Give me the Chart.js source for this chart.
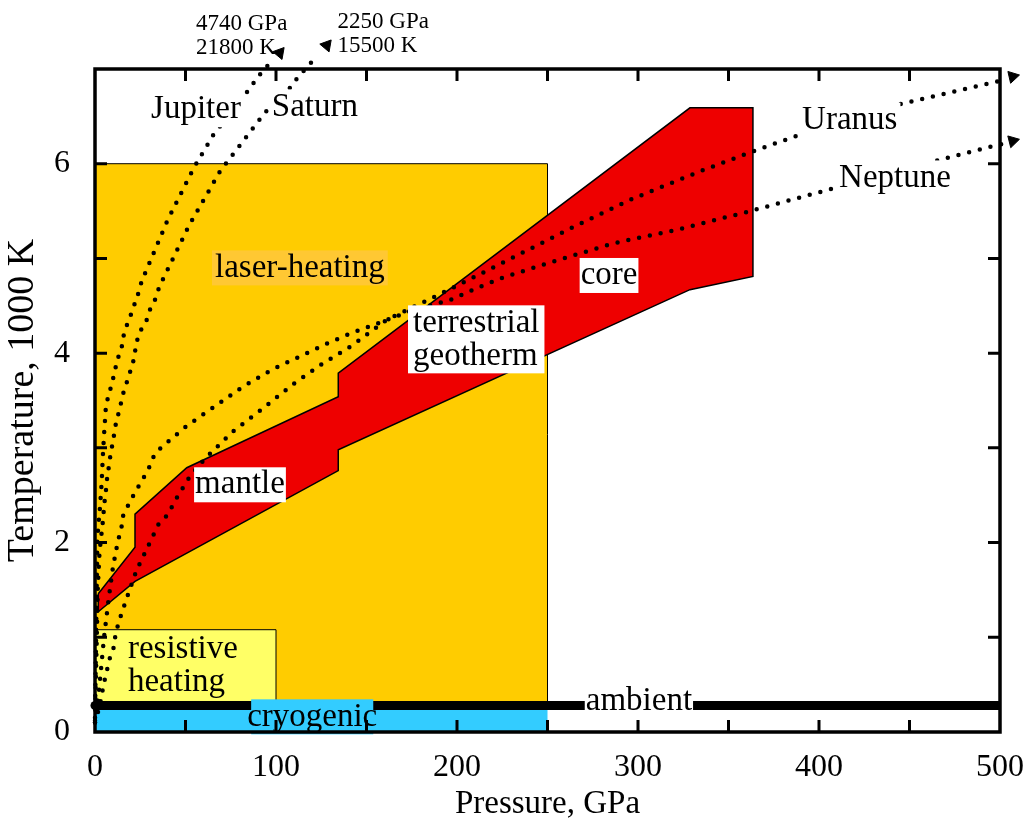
<!DOCTYPE html>
<html lang="en">
<head>
<meta charset="UTF-8">
<title>Pressure-temperature ranges</title>
<script src="https://cdn.jsdelivr.net/npm/chart.js"></script>
<style>
  html, body { margin: 0; padding: 0; background: #fff; }
  canvas { display: block; }
</style>
</head>
<body>
<canvas id="c" width="1025" height="824"></canvas>
<script>
// axis ticks
const xTicks = [0, 100, 200, 300, 400, 500];
const yTicks = [0, 2, 4, 6];

// experimental ranges (pressure GPa, temperature 1000 K)
const cryoP = [0, 250, 250, 0, 0];
const cryoT = [0, 0, 0.28, 0.28, 0];
const laserP = [0, 250, 250, 0, 0];
const laserT = [0.28, 0.28, 6, 6, 0.28];
const resistP = [0, 100, 100, 0, 0];
const resistT = [0.28, 0.28, 1.08, 1.08, 0.28];
const ambientP = [0, 500];
const ambientT = [0.28, 0.28];

// terrestrial geotherm (mantle + core band)
const geoP = [1.8, 22.1, 22.1, 50.7, 134.4, 134.4, 328.7, 363.5, 363.5, 328.7, 134.4, 134.4, 22.1, 1.8, 1.8];
const geoT = [1.46, 1.95, 2.30, 2.79, 3.54, 3.79, 6.59, 6.59, 4.81, 4.67, 2.98, 2.76, 1.59, 1.27, 1.46];

// planetary adiabats
const jupiterP = [0, 0.3, 0.6, 0.9, 1.3, 2.2, 2.8, 3.7, 4.3, 5.0, 5.9, 7.0, 9.2, 11, 12.2, 14.5, 15.6, 17.1, 19.7, 23.9, 25.8, 40, 54.7, 65.2, 83.3, 90.6, 96];
const jupiterT = [0.15, 0.6, 1.0, 1.5, 2.05, 2.25, 2.38, 2.64, 2.9, 3.14, 3.4, 3.52, 3.67, 3.81, 3.93, 4.03, 4.17, 4.27, 4.40, 4.63, 4.76, 5.4, 5.96, 6.30, 6.74, 6.93, 7.05];
const saturnP = [0, 0.5, 1.0, 1.5, 2.5, 4.6, 5.0, 5.9, 6.8, 7.9, 8.7, 10.1, 11, 14.2, 15.5, 17.7, 19.7, 21.7, 22.7, 24.9, 28.2, 30.4, 33.3, 35.5, 52, 69.4, 77.9, 93.9, 107.7, 112, 120];
const saturnT = [0.12, 0.6, 1.0, 1.5, 1.9, 2.27, 2.39, 2.52, 2.70, 2.83, 2.95, 3.08, 3.21, 3.46, 3.57, 3.70, 3.82, 3.95, 4.10, 4.23, 4.33, 4.46, 4.57, 4.70, 5.35, 5.93, 6.14, 6.54, 6.80, 6.91, 7.08];
const uranusP = [0, 1.5, 2.5, 3.7, 4.6, 6.4, 7.4, 10.1, 11, 12.9, 16.6, 18.4, 23, 25.8, 35, 40, 46, 52.5, 61, 76, 91, 110, 125, 142, 161, 185, 207, 231, 263, 297, 333, 362, 390, 445, 499, 502];
const uranusT = [0.1, 0.2, 0.28, 0.37, 0.5, 0.62, 0.74, 0.87, 0.99, 1.15, 1.36, 1.46, 1.71, 1.82, 2.19, 2.29, 2.5, 2.7, 2.89, 3.17, 3.39, 3.68, 3.88, 4.08, 4.35, 4.57, 4.78, 5.01, 5.32, 5.63, 5.91, 6.12, 6.31, 6.63, 6.87, 6.885];
const neptuneP = [0, 1.5, 3, 5, 7.5, 10, 12.5, 14.7, 15.6, 19, 22.7, 25.8, 29.4, 32.2, 36.3, 50.6, 66.3, 82, 98.2, 117, 128, 141.4, 154.3, 175, 196, 212.7, 225.6, 250.4, 286.4, 323.2, 360, 408, 470.5, 499, 502];
const neptuneT = [0.1, 0.3, 0.6, 1.0, 1.4, 1.75, 2.0, 2.17, 2.29, 2.42, 2.55, 2.65, 2.77, 2.9, 3.0, 3.23, 3.44, 3.65, 3.83, 4.0, 4.1, 4.21, 4.30, 4.45, 4.56, 4.70, 4.80, 4.95, 5.16, 5.31, 5.49, 5.74, 6.06, 6.2, 6.21];

// arrow heads where the adiabats leave the frame
const arrowP = [102, 128, 507, 507];
const arrowT = [7.17, 7.25, 6.92, 6.24];
const arrowAngle = [40, 40, 77, 76];

const FONT = "'Liberation Serif', 'Times New Roman', serif";
const pts = (xs, ys) => xs.map((v, i) => ({x: v, y: ys[i]}));

function area(xs, ys, color, border, bw, order) {
  return {
    data: pts(xs, ys), showLine: true, fill: 'shape',
    backgroundColor: color, borderColor: border, borderWidth: bw,
    pointRadius: 0, order: order
  };
}
function adiabat(xs, ys) {
  return {
    data: pts(xs, ys), showLine: true, fill: false,
    borderColor: '#000', borderWidth: 4.5, borderDash: [0, 11],
    borderCapStyle: 'round', pointRadius: 0, clip: false, order: 1
  };
}

// text annotations: position in data units, px box padding
const notes = [
  {lines: ['laser-heating'], p: 66.3, t: 4.9, align: 'left', bg: '#FFC833', padX: 3},
  {lines: ['resistive', 'heating'], p: 18.2, t: 0.87, align: 'left', bg: null},
  {lines: ['mantle'], p: 80.1, t: 2.61, align: 'center', bg: '#fff', padX: 1},
  {lines: ['terrestrial', 'geotherm'], p: 175.7, t: 4.32, align: 'left', bg: '#fff', padX: 5},
  {lines: ['core'], p: 284, t: 4.82, align: 'center', bg: '#fff', padX: 1},
  {lines: ['Uranus'], p: 417, t: 6.46, align: 'center', bg: '#fff', padX: 3},
  {lines: ['Neptune'], p: 442, t: 5.85, align: 'center', bg: '#fff', padX: 3},
  {lines: ['Jupiter'], p: 55.8, t: 6.57, align: 'center', bg: '#fff', padX: 3},
  {lines: ['Saturn'], p: 121.5, t: 6.60, align: 'center', bg: '#fff', padX: 2},
  {lines: ['ambient'], p: 300.5, t: 0.32, align: 'center', bg: '#fff', padX: 1},
  {lines: ['cryogenic'], p: 120, t: 0.16, align: 'center', bg: '#33CCFF', padX: -4},
  {lines: ['4740 GPa', '21800 K'], p: 55.8, t: 7.48, align: 'left', bg: null, size: 23, lh: 24},
  {lines: ['2250 GPa', '15500 K'], p: 134, t: 7.5, align: 'left', bg: null, size: 23, lh: 24}
];

const overlay = {
  id: 'overlay',
  afterDatasetsDraw(chart) {
    const {ctx, chartArea: a, scales: {x, y}} = chart;
    ctx.save();
    // arrow heads sit outside the chart area, so Chart.js skips them; draw them here
    const arrows = chart.getDatasetMeta(0);
    arrows.data.forEach((el, i) => {
      const o = {pointStyle: 'triangle', radius: 7, rotation: arrowAngle[i], borderWidth: 1};
      ctx.fillStyle = '#000';
      ctx.strokeStyle = '#000';
      ctx.lineWidth = 1;
      Chart.helpers.drawPoint(ctx, o, el.x, el.y);
    });
    ctx.textBaseline = 'middle';
    notes.forEach(n => {
      const size = n.size || 33, lh = n.lh || 33;
      ctx.font = size + 'px ' + FONT;
      const px = x.getPixelForValue(n.p), py = y.getPixelForValue(n.t);
      const w = Math.max(...n.lines.map(s => ctx.measureText(s).width));
      const left = n.align === 'left' ? px : px - w / 2;
      if (n.bg) {
        const pad = n.padX || 0;
        ctx.fillStyle = n.bg;
        ctx.fillRect(left - pad, py - lh / 2 - 1, w + 2 * pad, lh * n.lines.length + 2);
      }
      ctx.fillStyle = '#000';
      ctx.textAlign = 'left';
      n.lines.forEach((s, i) => ctx.fillText(s, left, py + i * lh));
    });
    // frame
    ctx.strokeStyle = '#000';
    ctx.lineWidth = 3.5;
    ctx.strokeRect(a.left, a.top, a.right - a.left, a.bottom - a.top);
    // inward tick marks
    ctx.lineWidth = 3;
    const tl = 12;
    ctx.beginPath();
    for (let v = 50; v < 500; v += 50) {
      const px = x.getPixelForValue(v);
      ctx.moveTo(px, a.bottom); ctx.lineTo(px, a.bottom - tl);
      ctx.moveTo(px, a.top); ctx.lineTo(px, a.top + tl);
    }
    for (let v = 1; v < 7; v += 1) {
      const py = y.getPixelForValue(v);
      ctx.moveTo(a.left, py); ctx.lineTo(a.left + tl, py);
      ctx.moveTo(a.right, py); ctx.lineTo(a.right - tl, py);
    }
    ctx.stroke();
    ctx.restore();
  }
};

new Chart(document.getElementById('c'), {
  type: 'scatter',
  data: {
    datasets: [
      {data: pts(arrowP, arrowT), pointRadius: 0, showLine: false, clip: false, order: 0},
      adiabat(jupiterP, jupiterT),
      adiabat(saturnP, saturnT),
      adiabat(uranusP, uranusT),
      adiabat(neptuneP, neptuneT),
      {data: pts(ambientP, ambientT), showLine: true, borderColor: '#000', borderWidth: 9,
       borderCapStyle: 'round', pointRadius: 0, clip: {left: 6, right: 0, top: 0, bottom: 0}, order: 2},
      area(geoP, geoT, '#EE0000', '#000', 1.5, 3),
      area(resistP, resistT, '#FFFF66', '#000', 1, 4),
      area(laserP, laserT, '#FFCC00', '#000', 1, 5),
      area(cryoP, cryoT, '#33CCFF', '#33CCFF', 0, 6)
    ]
  },
  options: {
    responsive: false,
    animation: false,
    devicePixelRatio: 1,
    layout: {padding: {top: 69, right: 25, left: 0, bottom: 0}},
    plugins: {legend: {display: false}, tooltip: {enabled: false}},
    scales: {
      x: {
        type: 'linear', min: 0, max: 500,
        afterBuildTicks: s => { s.ticks = xTicks.map(v => ({value: v})); },
        afterFit: s => { s.height = 92; s.paddingLeft = 0; s.paddingRight = 0; },
        grid: {display: false}, border: {display: false},
        ticks: {color: '#000', font: {family: FONT, size: 32}, padding: 8, maxRotation: 0},
        title: {display: true, text: 'Pressure, GPa', color: '#000',
                font: {family: FONT, size: 33}, padding: {top: 0, bottom: 0}}
      },
      y: {
        type: 'linear', min: 0, max: 7,
        afterBuildTicks: s => { s.ticks = yTicks.map(v => ({value: v})); },
        afterFit: s => { s.width = 95; s.paddingTop = 0; s.paddingBottom = 0; },
        grid: {display: false}, border: {display: false},
        ticks: {color: '#000', font: {family: FONT, size: 32}, padding: 17},
        title: {display: true, text: 'Temperature, 1000 K', color: '#000',
                font: {family: FONT, size: 38}, padding: {top: 0, bottom: 0}}
      }
    }
  },
  plugins: [overlay]
});
</script>
</body>
</html>
